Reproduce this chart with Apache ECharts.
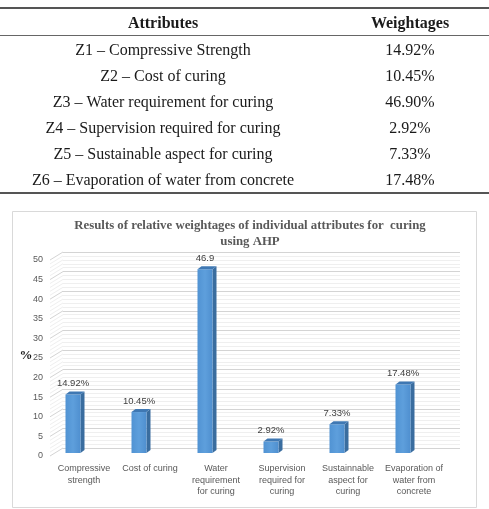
<!DOCTYPE html>
<html>
<head>
<meta charset="utf-8">
<script src="https://cdn.jsdelivr.net/npm/echarts@6/dist/echarts.min.js"></script>
<style>
html,body{margin:0;padding:0;background:#fff;}
#main{width:489px;height:509px;}
</style>
</head>
<body>
<div id="main"></div>
<script>
// ---- data ----
const tableHeaders = ["Attributes", "Weightages"];
const tableAttributes = [
  "Z1 – Compressive Strength",
  "Z2 – Cost of curing",
  "Z3 – Water requirement for curing",
  "Z4 – Supervision required for curing",
  "Z5 – Sustainable aspect for curing",
  "Z6 – Evaporation of water from concrete"
];
const tableWeightages = ["14.92%", "10.45%", "46.90%", "2.92%", "7.33%", "17.48%"];

const chartTitle = "Results of relative weightages of individual attributes for  curing\nusing AHP";
const categories = [
  "Compressive\nstrength",
  "Cost of curing",
  "Water\nrequirement\nfor curing",
  "Supervision\nrequired for\ncuring",
  "Sustainnable\naspect for\ncuring",
  "Evaporation of\nwater from\nconcrete"
];
const values = [14.92, 10.45, 46.9, 2.92, 7.33, 17.48];
const valueLabels = ["14.92%", "10.45%", "46.9", "2.92%", "7.33%", "17.48%"];
const yAxisName = "%";
const yMin = 0, yMax = 50, yStep = 5;
const gridValues = [];
for (let v = yMin; v <= yMax; v += 1) gridValues.push(v);

// ---- table graphics ----
const serif = "'Liberation Serif','Times New Roman',serif";
const sans = "'Liberation Sans',Arial,sans-serif";
const graphics = [];
graphics.push({type:'rect', shape:{x:0,y:7,width:489,height:2}, style:{fill:'#555'}});
graphics.push({type:'rect', shape:{x:0,y:35,width:489,height:1}, style:{fill:'#666'}});
graphics.push({type:'rect', shape:{x:0,y:192,width:489,height:2}, style:{fill:'#555'}});
graphics.push({type:'text', x:163, y:24, style:{text:tableHeaders[0], font:"bold 16px "+serif, fill:'#1a1a1a', textAlign:'center', textVerticalAlign:'middle'}});
graphics.push({type:'text', x:410, y:24, style:{text:tableHeaders[1], font:"bold 16px "+serif, fill:'#1a1a1a', textAlign:'center', textVerticalAlign:'middle'}});
tableAttributes.forEach((t, i) => {
  const y = 51 + i * 26;
  graphics.push({type:'text', x:163, y:y, style:{text:t, font:"16px "+serif, fill:'#1a1a1a', textAlign:'center', textVerticalAlign:'middle'}});
  graphics.push({type:'text', x:410, y:y, style:{text:tableWeightages[i], font:"16px "+serif, fill:'#1a1a1a', textAlign:'center', textVerticalAlign:'middle'}});
});
// chart frame
graphics.push({type:'rect', z:-10, shape:{x:12.5,y:211.5,width:464,height:296}, style:{fill:'#fff', stroke:'#d9d9d9', lineWidth:1}});
graphics.push({type:'text', x:26, y:356, style:{text:yAxisName, font:"bold 13px "+serif, fill:'#1a1a1a', textAlign:'center', textVerticalAlign:'middle'}});

// ---- renderers ----
function renderBar(params, api) {
  const i = api.value(0), v = api.value(1);
  const base = api.coord([i, 0]);
  const top = api.coord([i, v]);
  const bw = 15, dx = 4, dy = 3, off = -11, lift = -3;
  const x0 = base[0] + off - bw / 2, x1 = x0 + bw;
  const yb = base[1] + lift, yt = top[1] + lift;
  return {
    type: 'group',
    children: [
      {type:'polygon', shape:{points:[[x1,yt],[x1+dx,yt-dy],[x1+dx,yb-dy],[x1,yb]]}, style:{fill:'#3a6d9f'}},
      {type:'rect', shape:{x:x0,y:yt,width:bw,height:yb-yt}, style:{fill:new echarts.graphic.LinearGradient(0,0,1,0,[{offset:0,color:'#5193d3'},{offset:0.5,color:'#5e9fdc'},{offset:1,color:'#4f8fcf'}])}},
      {type:'polygon', shape:{points:[[x0,yt],[x1,yt],[x1+dx,yt-dy],[x0+dx,yt-dy]]}, style:{fill:'#3f78b3'}},
      {type:'text', x:x0 + bw / 2, y:yt - 11, style:{text:valueLabels[i], font:"9.5px "+sans, fill:'#404040', textAlign:'center', textVerticalAlign:'middle'}}
    ]
  };
}
function renderRamp(params, api) {
  const v = api.value(0);
  const p = api.coord([0, v]);
  const x = params.coordSys.x - 1;
  const major = v % yStep === 0;
  return {
    type:'line',
    shape:{x1:x, y1:p[1], x2:x + 13, y2:p[1] - 8},
    style:{stroke: major ? '#d4d4d4' : '#efefef', lineWidth:1}
  };
}

const chart = echarts.init(document.getElementById('main'), null, {renderer:'canvas'});
chart.setOption({
  animation:false,
  backgroundColor:'#fff',
  title:{
    text: chartTitle,
    left: 250, top: 218, textAlign:'center', padding:0,
    textStyle:{fontFamily:serif, fontWeight:'bold', fontSize:12.8, color:'#595959', lineHeight:16}
  },
  graphic: graphics,
  grid:[
    {left:51, top:260, width:396, height:196},
    {left:63, top:252, width:397, height:196}
  ],
  xAxis:[
    {type:'category', gridIndex:0, data:categories,
     axisLine:{show:false}, axisTick:{show:false},
     axisLabel:{interval:0, margin:7, color:'#595959', fontSize:9, fontFamily:sans, lineHeight:11.5}},
    {type:'category', gridIndex:1, data:categories, show:false}
  ],
  yAxis:[
    {type:'value', gridIndex:0, min:yMin, max:yMax, interval:yStep,
     axisLine:{show:false}, axisTick:{show:false}, splitLine:{show:false},
     axisLabel:{margin:8, color:'#595959', fontSize:9, fontFamily:sans}},
    {type:'value', gridIndex:1, min:yMin, max:yMax, interval:yStep,
     axisLine:{show:false}, axisTick:{show:false}, axisLabel:{show:false},
     splitLine:{show:true, lineStyle:{color:'#d4d4d4', width:1}},
     minorTick:{show:false, splitNumber:5},
     minorSplitLine:{show:true, lineStyle:{color:'#efefef', width:1}}}
  ],
  series:[
    {type:'custom', xAxisIndex:0, yAxisIndex:0, renderItem:renderRamp, data:gridValues.map(v => [v]), encode:{y:0}, silent:true, z:1},
    {type:'custom', xAxisIndex:0, yAxisIndex:0, renderItem:renderBar, data:values.map((v,i) => [i, v]), encode:{x:0, y:1}, z:5}
  ]
});
</script>
</body>
</html>
